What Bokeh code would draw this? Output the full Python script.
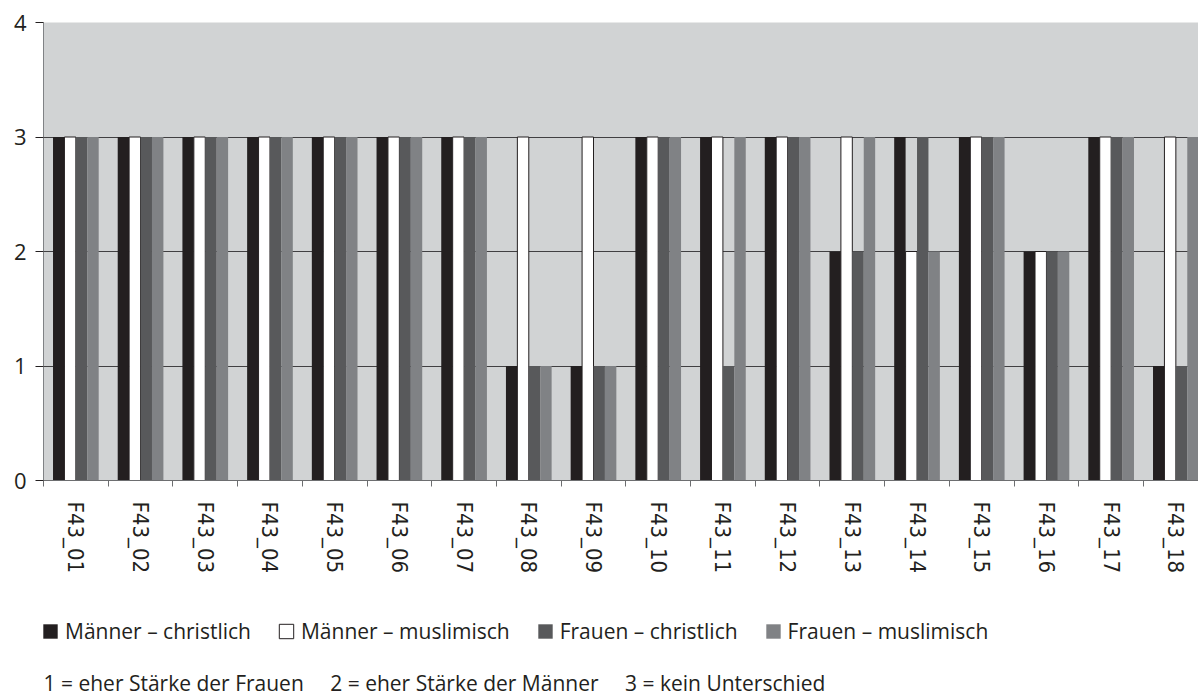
import math
from bokeh.plotting import figure
from bokeh.layouts import column
from bokeh.models import (ColumnDataSource, Range1d, FixedTicker, Legend,
                          LegendItem, Label)
from bokeh.transform import dodge
from bokeh.embed import file_html
from bokeh.resources import INLINE

# ---------------- data ----------------
categories = ["F43_01", "F43_02", "F43_03", "F43_04", "F43_05", "F43_06",
              "F43_07", "F43_08", "F43_09", "F43_10", "F43_11", "F43_12",
              "F43_13", "F43_14", "F43_15", "F43_16", "F43_17", "F43_18"]
maenner_christlich = [3, 3, 3, 3, 3, 3, 3, 1, 1, 3, 3, 3, 2, 3, 3, 2, 3, 1]
maenner_muslimisch = [3, 3, 3, 3, 3, 3, 3, 3, 3, 3, 3, 3, 3, 2, 3, 2, 3, 3]
frauen_christlich = [3, 3, 3, 3, 3, 3, 3, 1, 1, 3, 1, 3, 2, 3, 3, 2, 3, 1]
frauen_muslimisch = [3, 3, 3, 3, 3, 3, 3, 1, 1, 3, 3, 3, 3, 2, 3, 2, 3, 3]
series_labels = ["Männer – christlich", "Männer – muslimisch",
                 "Frauen – christlich", "Frauen – muslimisch"]
y_ticks = [0, 1, 2, 3, 4]
footnote = ("1 = eher Stärke der Frauen\u2003 2 = eher Stärke der Männer"
            "\u2003 3 = kein Unterschied")

# ---------------- styles ----------------
keys = ["mc", "mm", "fc", "fm"]
fills = ["#231f20", "#ffffff", "#58595b", "#808285"]
lines = [None, "#231f20", None, None]
bar_w = 0.1765
offsets = [-1.5 * bar_w, -0.5 * bar_w, 0.5 * bar_w, 1.5 * bar_w]

# ---------------- main chart ----------------
n = len(categories)
src = ColumnDataSource(dict(x=list(range(n)), cat=categories,
                            mc=maenner_christlich, mm=maenner_muslimisch,
                            fc=frauen_christlich, fm=frauen_muslimisch))

p = figure(width=1198, height=600, output_backend="svg", toolbar_location=None,
           x_range=Range1d(-0.5, 17.35), y_range=Range1d(0, 4),
           min_border_left=43, min_border_right=0, min_border_top=22,
           min_border_bottom=120)
p.background_fill_color = "#d1d3d4"
p.border_fill_color = "white"
p.outline_line_color = None

for key, off, fcol, lcol in zip(keys, offsets, fills, lines):
    p.vbar(x=dodge("x", off, range=p.x_range), top=key, bottom=0,
           width=bar_w, source=src, fill_color=fcol, line_color=lcol,
           line_width=1)

p.xgrid.visible = False
p.ygrid.grid_line_color = "#414042"
p.ygrid.grid_line_width = 1

xa = p.xaxis[0]
xa.ticker = FixedTicker(ticks=list(range(n)),
                        minor_ticks=[i - 0.5 for i in range(n + 1)])
xa.major_label_overrides = {i: c for i, c in enumerate(categories)}
xa.major_label_orientation = -math.pi / 2
xa.major_tick_out = 0
xa.major_tick_in = 0
xa.minor_tick_out = 6
xa.minor_tick_in = 0
xa.minor_tick_line_color = "#6d6e70"
xa.axis_line_color = "#6d6e70"
xa.major_label_standoff = 15
xa.major_label_text_font = "'Liberation Sans Narrow', 'DejaVu Sans Condensed', sans-serif"
xa.major_label_text_font_size = "22px"
xa.major_label_text_color = "#231f20"

ya = p.yaxis[0]
ya.ticker = FixedTicker(ticks=y_ticks)
ya.major_tick_out = 8
ya.major_tick_in = 0
ya.minor_tick_out = 0
ya.minor_tick_in = 0
ya.major_tick_line_color = "#231f20"
ya.axis_line_color = "#808285"
ya.major_label_standoff = 9
ya.major_label_text_font = "Open Sans"
ya.major_label_text_font_size = "22px"
ya.major_label_text_color = "#231f20"

# ---------------- legend + footnote panel ----------------
# the swatch renderers reuse the chart data but sit outside this panel's range
p2 = figure(width=1198, height=100, output_backend="svg", toolbar_location=None,
            x_range=Range1d(100, 101), y_range=Range1d(100, 101),
            x_axis_location=None, y_axis_location=None,
            min_border=0)
p2.grid.visible = False
p2.outline_line_color = None
p2.background_fill_color = "white"
p2.border_fill_color = "white"

swatches = []
for key, off, fcol, lcol in zip(keys, offsets, fills, lines):
    swatches.append(p2.vbar(x=dodge("x", off), top=key, bottom=0,
                            width=bar_w, source=src, fill_color=fcol,
                            line_color=lcol, line_width=1))

legend = Legend(items=[LegendItem(label=lab, renderers=[r])
                       for lab, r in zip(series_labels, swatches)],
                orientation="horizontal", location=(-2, 55),
                glyph_width=18, glyph_height=18, label_standoff=6,
                spacing=26, padding=0, margin=0, border_line_color=None,
                background_fill_alpha=0, label_text_font="Open Sans",
                label_text_font_size="21px", label_text_color="#231f20")
p2.add_layout(legend)

p2.add_layout(Label(x=0, y=18, x_units="screen", y_units="screen",
                    text=footnote, text_font="Open Sans",
                    text_font_size="21px", text_color="#231f20",
                    text_baseline="alphabetic"))

layout = column(p, p2, spacing=0)
open("out.html", "w").write(file_html(layout, INLINE))
